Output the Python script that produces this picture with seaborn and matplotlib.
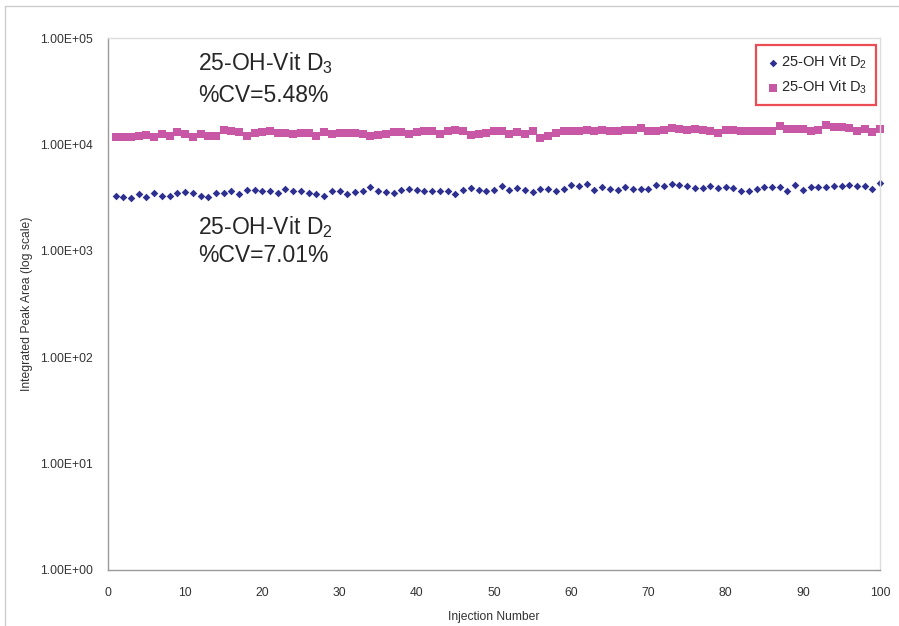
import numpy as np
import pandas as pd
import matplotlib.pyplot as plt
import seaborn as sns
from matplotlib.ticker import FuncFormatter, FixedLocator, NullLocator
from matplotlib.lines import Line2D

# data
injection = list(range(1, 101))
vit_d3 = [11650, 11730, 11900, 12160, 12330, 11650, 12690, 11990, 13060, 12600,
          11900, 12510, 12160, 12160, 13750, 13450, 13060, 11990, 12790, 13060,
          13450, 12880, 12880, 12510, 12790, 12790, 12160, 13060, 12510, 12880,
          12880, 12790, 12510, 12160, 12330, 12690, 13060, 13060, 12690, 13060,
          13450, 13270, 12510, 13270, 13560, 13450, 12330, 12510, 12790, 13270,
          13450, 12690, 13060, 12600, 13450, 11480, 12160, 12880, 13270, 13270,
          13270, 13750, 13270, 13750, 13450, 13270, 13750, 13650, 14260, 13450,
          13270, 13750, 14260, 14050, 13750, 13950, 13750, 13450, 12790, 13750,
          13650, 13450, 13270, 13270, 13270, 13450, 14890, 14050, 14050, 14050,
          13450, 13750, 15110, 14470, 14470, 14260, 13450, 14050, 13060, 14050]
vit_d2 = [3250, 3227, 3135, 3420, 3180, 3495, 3273, 3250, 3495, 3570,
          3495, 3273, 3227, 3495, 3495, 3620, 3420, 3730, 3730, 3675,
          3620, 3520, 3835, 3675, 3675, 3495, 3420, 3273, 3620, 3620,
          3420, 3570, 3620, 3950, 3620, 3570, 3470, 3755, 3810, 3755,
          3675, 3675, 3620, 3620, 3420, 3755, 3895, 3730, 3675, 3755,
          4035, 3755, 3895, 3755, 3570, 3835, 3835, 3620, 3835, 4185,
          4035, 4245, 3730, 3950, 3835, 3755, 3950, 3785, 3835, 3835,
          4125, 4035, 4245, 4185, 4035, 3895, 3895, 4090, 3895, 3950,
          3895, 3675, 3675, 3835, 4005, 3950, 3950, 3675, 4185, 3755,
          4005, 3950, 3950, 4035, 4090, 4185, 4090, 4090, 3835, 4340]
y_ticks = [1, 10, 100, 1000, 10000, 100000]
x_ticks = list(range(0, 101, 10))

sns.set_style('white')
plt.rcParams['font.family'] = ['Liberation Sans', 'DejaVu Sans']
plt.rcParams['mathtext.fontset'] = 'custom'
plt.rcParams['mathtext.rm'] = 'Liberation Sans'
plt.rcParams['mathtext.it'] = 'Liberation Sans:italic'

blue = '#2d3090'
pink = '#c858a6'

df2 = pd.DataFrame({'Injection': injection, 'Area': vit_d2})
df3 = pd.DataFrame({'Injection': injection, 'Area': vit_d3})

fig = plt.figure(figsize=(8.99, 6.26), dpi=100)
ax = fig.add_axes([0.120, 0.0895, 0.859, 0.8495])

sns.scatterplot(data=df2, x='Injection', y='Area', ax=ax, marker='D', s=15,
                color=blue, linewidth=0, label='25-OH Vit D$_2$', clip_on=False)
sns.scatterplot(data=df3, x='Injection', y='Area', ax=ax, marker='s', s=27,
                color=pink, linewidth=0, label='25-OH Vit D$_3$', clip_on=False)

ax.set_yscale('log')
ax.set_ylim(1, 100000)
ax.set_xlim(0, 100)
ax.yaxis.set_major_locator(FixedLocator(y_ticks))
ax.yaxis.set_minor_locator(NullLocator())
ax.yaxis.set_major_formatter(FuncFormatter(lambda v, p: f'{v:.2E}'))
ax.set_xticks(x_ticks)

ax.tick_params(axis='both', which='major', direction='out', length=4, width=0.8,
               color='#999999', labelsize=8.7, labelcolor='#333333')
ax.tick_params(axis='y', pad=7)
ax.tick_params(axis='x', pad=8)

for side in ['left', 'bottom']:
    ax.spines[side].set_color('#999999')
    ax.spines[side].set_linewidth(1.0)
for side in ['top', 'right']:
    ax.spines[side].set_color('#dddddd')
    ax.spines[side].set_linewidth(1.0)

ax.set_xlabel('Injection Number', fontsize=8.7, color='#333333', labelpad=9)
ax.set_ylabel('Integrated Peak Area (log scale)', fontsize=8.7, color='#333333', labelpad=5)

# annotations
ax.text(0.117, 0.94, '25-OH-Vit D$_3$', transform=ax.transAxes, fontsize=16.5, va='baseline')
ax.text(0.117, 0.88, '%CV=5.48%', transform=ax.transAxes, fontsize=16.5, va='baseline')
ax.text(0.117, 0.632, '25-OH-Vit D$_2$', transform=ax.transAxes, fontsize=16.5, va='baseline')
ax.text(0.117, 0.58, '%CV=7.01%', transform=ax.transAxes, fontsize=16.5, va='baseline')

leg = ax.legend(loc='upper right', bbox_to_anchor=(0.995, 0.987), borderaxespad=0,
                fontsize=10.5, frameon=True, fancybox=False, handletextpad=0.1,
                handlelength=1.0, borderpad=0.6, labelspacing=0.5)
leg.get_frame().set_edgecolor('#e8202a')
leg.get_frame().set_linewidth(1.6)

# outer chart frame (top and left edges visible)
fig.add_artist(Line2D([5 / 899, 1], [1 - 6 / 626, 1 - 6 / 626], color='#cccccc', lw=1))
fig.add_artist(Line2D([5 / 899, 5 / 899], [0, 1 - 6 / 626], color='#cccccc', lw=1))

fig.savefig('out.png', dpi=100)
